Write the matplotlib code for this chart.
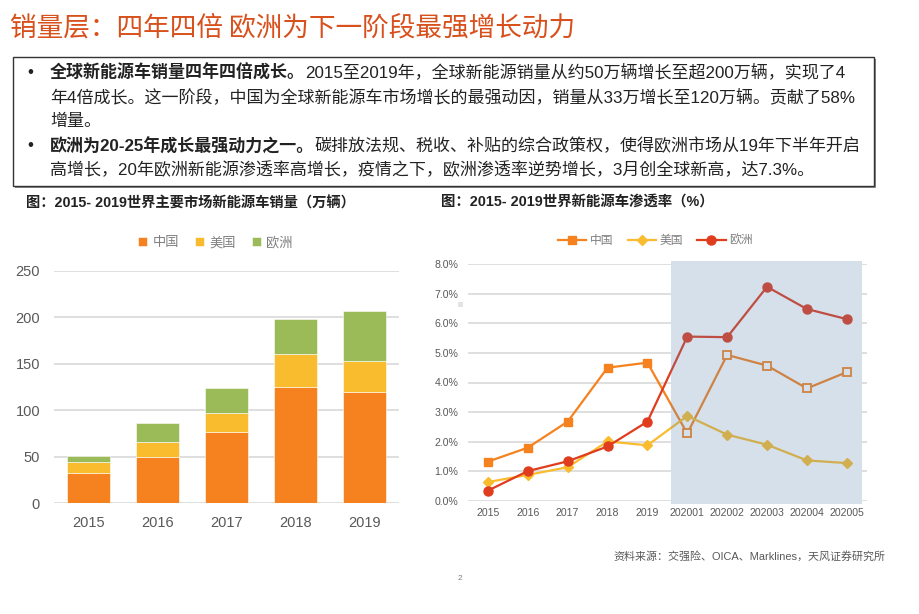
"""Slide: global NEV sales (stacked bars) and penetration rate (lines) with a text box."""

import matplotlib

matplotlib.use("Agg")

import matplotlib.pyplot as plt  # noqa: E402
from matplotlib.patches import Rectangle  # noqa: E402
from matplotlib.ticker import FuncFormatter  # noqa: E402

plt.rcParams["font.family"] = ["Liberation Sans", "Noto Sans CJK SC"]

# ---- data -------------------------------------------------------------
years = ["2015", "2016", "2017", "2018", "2019"]
china_sales = [33, 50, 77, 125, 120]
us_sales = [11, 16, 20, 36, 33]
europe_sales = [7, 20, 27, 37, 54]

periods = ["2015", "2016", "2017", "2018", "2019",
           "202001", "202002", "202003", "202004", "202005"]
china_pen = [1.33, 1.80, 2.68, 4.50, 4.67, 2.28, 4.93, 4.57, 3.80, 4.35]
us_pen = [0.64, 0.88, 1.14, 2.01, 1.88, 2.87, 2.24, 1.90, 1.37, 1.28]
europe_pen = [0.35, 1.01, 1.34, 1.84, 2.68, 5.55, 5.53, 7.23, 6.48, 6.14]
highlight_from = "202001"

series_names = ["中国", "美国", "欧洲"]

slide_title = "销量层：四年四倍 欧洲为下一阶段最强增长动力"
bullet_lines = [
    [("全球新能源车销量四年四倍成长。", "bold"),
     ("2015至2019年，全球新能源销量从约50万辆增长至超200万辆，实现了4", "normal")],
    [("年4倍成长。这一阶段，中国为全球新能源车市场增长的最强动因，销量从33万增长至120万辆。贡献了58%", "normal")],
    [("增量。", "normal")],
    [("欧洲为20-25年成长最强动力之一。", "bold"),
     ("碳排放法规、税收、补贴的综合政策权，使得欧洲市场从19年下半年开启", "normal")],
    [("高增长，20年欧洲新能源渗透率高增长，疫情之下，欧洲渗透率逆势增长，3月创全球新高，达7.3%。", "normal")],
]
bullet_starts = [0, 3]
left_title = "图：2015- 2019世界主要市场新能源车销量（万辆）"
right_title = "图：2015- 2019世界新能源车渗透率（%）"
source_note = "资料来源：交强险、OICA、Marklines，天风证券研究所"

# ---- figure -----------------------------------------------------------
W, H = 920, 614
fig = plt.figure(figsize=(W / 100, H / 100), dpi=100)
renderer = fig.canvas.get_renderer()


def fx(px):
    return px / W


def fy(py):
    return 1 - py / H


fig.text(fx(10), fy(28), slide_title, fontsize=19.2, color="#D8501C",
         family=["Noto Sans CJK SC"], va="center", ha="left")

# text box with a slight shadow
fig.patches.append(Rectangle((fx(15), fy(188)), fx(861), 129 / H, transform=fig.transFigure,
                             facecolor="#8C8C8C", edgecolor="none", zorder=0))
fig.patches.append(Rectangle((fx(13), fy(186)), fx(861), 129 / H, transform=fig.transFigure,
                             facecolor="white", edgecolor="#333333", lw=1.0, zorder=1))

body_size = 12.25
for i, runs in enumerate(bullet_lines):
    y = 72 + i * 24.5
    if i in bullet_starts:
        fig.text(fx(27), fy(y), "•", fontsize=body_size, color="#222222", va="center", ha="left")
    x = 50
    for text, weight in runs:
        t = fig.text(fx(x), fy(y), text, fontsize=body_size, fontweight=weight,
                     color="#222222", va="center", ha="left")
        x += t.get_window_extent(renderer).width

fig.text(fx(26), fy(203), left_title, fontsize=10.3, fontweight="bold", color="#222222",
         va="center", ha="left")
fig.text(fx(441), fy(203), right_title, fontsize=10.4, fontweight="bold", color="#222222",
         va="center", ha="left")
fig.text(fx(613), fy(556), source_note, fontsize=7.9, color="#595959", va="center", ha="left")
fig.text(fx(460), fy(578), "2", fontsize=6, color="#7F7F7F", va="center", ha="center")
fig.patches.append(Rectangle((fx(458), fy(307)), 5 / W, 5 / H, transform=fig.transFigure,
                             facecolor="#E3E3E3", edgecolor="none"))

grid_color = "#D9D9D9"
tick_color = "#595959"
bar_colors = ["#F5821F", "#F9BC2E", "#9BBB59"]

# ---- left: stacked bars ----------------------------------------------
ax1 = fig.add_axes([fx(54), fy(503.3), 345 / W, 232.3 / H])
bottom = [0] * len(years)
for values, name, color in zip([china_sales, us_sales, europe_sales], series_names, bar_colors):
    ax1.bar(years, values, width=0.62, bottom=bottom, color=color, label=name,
            edgecolor="white", linewidth=0.4)
    bottom = [b + v for b, v in zip(bottom, values)]
ax1.set_xlim(-0.5, len(years) - 0.5)
ax1.set_ylim(0, 250)
ax1.set_yticks(range(0, 251, 50))
ax1.set_axisbelow(True)
ax1.grid(axis="y", color=grid_color, lw=1.2)
for s in ax1.spines.values():
    s.set_visible(False)
ax1.tick_params(length=0, labelsize=10.5, colors=tick_color)
ax1.tick_params(axis="y", pad=10)
ax1.tick_params(axis="x", pad=9)
ax1.legend(loc="center", bbox_to_anchor=(0.468, 1.12), ncol=3, frameon=False,
           fontsize=9.5, labelcolor="#7F7F7F", handlelength=0.7, handleheight=0.7,
           handletextpad=0.4, columnspacing=1.2)

# ---- right: penetration lines ----------------------------------------
ax2 = fig.add_axes([fx(468), fy(501), 398.7 / W, 237 / H])
xs = list(range(len(periods)))
split = periods.index(highlight_from)
ax2.plot(xs, china_pen, color="#F5821F", lw=1.6, marker="s", ms=6,
         markevery=list(range(split)), label=series_names[0], zorder=2)
ax2.plot(xs[split:], china_pen[split:], ls="none", marker="s", ms=5.5, mfc="white",
         mec="#F5821F", mew=1.3, zorder=2.2)
ax2.plot(xs, us_pen, color="#F9BC2E", lw=1.6, marker="D", ms=5, label=series_names[1], zorder=2)
ax2.plot(xs, europe_pen, color="#E03C1E", lw=1.6, marker="o", ms=6.5,
         label=series_names[2], zorder=2.1)

ax2.set_xlim(-0.5, len(periods) - 0.5)
ax2.set_ylim(0, 8)
ax2.set_yticks(range(0, 9))
ax2.yaxis.set_major_formatter(FuncFormatter(lambda v, _: f"{v:.1f}%"))
ax2.set_xticks(xs)
ax2.set_xticklabels(periods)
ax2.set_axisbelow(True)
ax2.grid(axis="y", color=grid_color, lw=1.2)
for s in ax2.spines.values():
    s.set_visible(False)
ax2.tick_params(length=0, labelsize=7.6, colors=tick_color)
ax2.tick_params(axis="y", pad=7)
ax2.tick_params(axis="x", pad=5)

# highlighted 2020 period: white under the lines, translucent blue over them
x0, x1 = split - 0.4, len(periods) - 0.62
for fc, alpha, z in [("white", 1.0, 1), ("#5B87B3", 0.25, 3)]:
    ax2.add_patch(Rectangle((x0, -0.11), x1 - x0, 8.22, facecolor=fc, alpha=alpha,
                            edgecolor="none", zorder=z, clip_on=False))

ax2.legend(loc="center", bbox_to_anchor=(0.47, 1.097), ncol=3, frameon=False,
           fontsize=8.5, labelcolor="#7F7F7F", handlelength=2.4, handletextpad=0.3,
           columnspacing=1.2)

fig.savefig("out.png", dpi=100)
